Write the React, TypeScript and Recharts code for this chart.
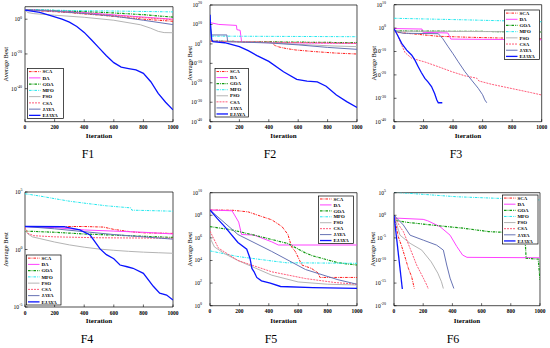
import React from 'react';
import { LineChart, Line, XAxis, YAxis, ReferenceArea } from 'recharts';

const FONT = '"Liberation Serif", "Times New Roman", serif';

type Pt = [number, number]; // [iteration, log10(average best)]

const ITER_TICKS = [0, 200, 400, 600, 800, 1000];
const ALGOS = ['SCA', 'DA', 'GOA', 'MFO', 'PSO', 'CSA', 'JAYA', 'EJAYA'];
const COLORS = ['#ff1a1a', '#ff40ff', '#109a10', '#22e8ee', '#b4b4b4', '#ff5a78', '#6672b4', '#0a14ff'];
const DASHES = ['2.6 1 0.8 1', '', '2.6 1 0.8 1', '2.6 1 0.8 1', '', '2 1', '', ''];
const WIDTHS = [1, 1, 1.2, 1, 1, 1, 1, 1.3];

// ---------------- F1 ----------------
const F1_Y_TICKS = [0, -20, -40];
const F1_SCA: Pt[] = [[0, 5.5], [100, 4.8], [200, 4.3], [300, 3.8], [400, 3.0], [500, 2.4], [600, 1.6], [700, 0.8], [800, 0.0], [900, -0.6], [1000, -1.2]];
const F1_DA: Pt[] = [[0, 5.6], [150, 5.1], [300, 4.5], [450, 3.5], [600, 2.5], [800, 1.2], [1000, 0.0]];
const F1_GOA: Pt[] = [[0, 5.6], [200, 5.0], [400, 4.4], [600, 3.6], [800, 2.6], [1000, 1.2]];
const F1_MFO: Pt[] = [[0, 5.6], [300, 5.0], [600, 4.7], [1000, 4.2]];
const F1_PSO: Pt[] = [[0, 5.3], [20, 3.8], [60, 3.2], [200, 2.3], [400, 1.1], [600, -0.6], [780, -3.2], [850, -5.2], [900, -7.0], [940, -7.7], [1000, -7.8]];
const F1_CSA: Pt[] = [[0, 5.5], [200, 4.5], [400, 3.5], [600, 2.2], [800, 0.9], [1000, -0.3]];
const F1_JAYA: Pt[] = [[0, 5.4], [200, 4.6], [400, 3.3], [600, 1.8], [800, -0.6], [1000, -3.1]];
const F1_EJAYA: Pt[] = [[0, 5.2], [100, 3.9], [190, 1.6], [250, 0.0], [300, -1.7], [350, -4.2], [400, -7.6], [450, -12.0], [500, -16.5], [550, -21.0], [600, -25.0], [650, -27.6], [700, -28.4], [750, -29.2], [800, -31.2], [850, -36.0], [900, -42.7], [950, -47.8], [1000, -52.2]];

// ---------------- F2 ----------------
const F2_Y_TICKS = [20, 10, 0, -10, -20, -30, -40];
const F2_SCA: Pt[] = [[0, 1.3], [420, 1.0], [440, -0.8], [470, -1.6], [520, -2.4], [580, -3.1], [700, -3.9], [850, -4.7], [1000, -5.2]];
const F2_DA: Pt[] = [[0, 11.0], [10, 10.8], [60, 10.0], [180, 9.5], [183, 7.3], [205, 7.0], [215, 1.0], [400, 0.6], [1000, 0.3]];
const F2_GOA: Pt[] = [[0, 1.5], [200, 1.2], [600, 0.9], [1000, 0.6]];
const F2_MFO: Pt[] = [[0, 12.0], [8, 4.0], [1000, 3.7]];
const F2_PSO: Pt[] = [[0, 1.5], [300, 1.1], [500, 0.2], [700, -0.6], [850, -1.1], [1000, -1.4]];
const F2_CSA: Pt[] = [[0, 1.4], [500, 0.8], [1000, 0.3]];
const F2_JAYA: Pt[] = [[0, 15.0], [5, 8.0], [10, 4.6], [115, 4.6], [120, 1.1], [400, 0.5], [600, -0.5], [800, -1.8], [1000, -2.8]];
const F2_EJAYA: Pt[] = [[0, 15.0], [5, 8.0], [12, 2.0], [20, 1.2], [100, 0.6], [200, -1.4], [260, -3.5], [320, -6.0], [400, -9.0], [500, -14.3], [590, -18.2], [660, -19.1], [730, -19.5], [790, -21.8], [860, -26.3], [930, -29.7], [1000, -32.7]];

// ---------------- F3 ----------------
const F3_Y_TICKS = [10, 0, -10, -20, -30, -40];
const F3_SCA: Pt[] = [[0, -0.5], [20, -1.8], [100, -2.3], [300, -3.5], [500, -3.9], [700, -4.2], [1000, -4.6]];
const F3_DA: Pt[] = [[0, -0.2], [190, -0.4], [195, -1.8], [365, -2.1], [385, -4.7], [1000, -5.0]];
const F3_GOA: Pt[] = [[0, -1.2], [1000, -1.6]];
const F3_MFO: Pt[] = [[0, 4.2], [500, 3.5], [1000, 2.7]];
const F3_PSO: Pt[] = [[0, -1.3], [1000, -1.6]];
const F3_CSA: Pt[] = [[0, -0.5], [15, -2.0], [30, -3.8], [50, -7.0], [75, -10.5], [120, -12.9], [210, -14.5], [300, -16.5], [390, -18.6], [480, -20.4], [560, -21.4], [575, -22.6], [660, -24.0], [750, -25.2], [840, -26.4], [930, -27.6], [1000, -28.6]];
const F3_JAYA: Pt[] = [[0, -0.5], [20, -1.5], [60, -2.2], [300, -2.4], [330, -4.5], [367, -8.0], [400, -11.0], [435, -14.4], [480, -18.6], [525, -22.2], [570, -25.7], [600, -28.5], [615, -30.7], [628, -31.9]];
const F3_EJAYA: Pt[] = [[0, -0.3], [20, -2.5], [52, -6.5], [86, -9.4], [119, -11.5], [140, -13.5], [164, -16.5], [185, -19.0], [209, -21.5], [230, -23.0], [254, -25.0], [275, -28.0], [290, -30.7], [300, -31.9], [327, -31.9]];

// ---------------- F4 ----------------
const F4_Y_TICKS = [5, 0, -5];
const F4_SCA: Pt[] = [[0, 2.0], [200, 2.0], [400, 2.0], [530, 1.95], [600, 1.75], [710, 1.55], [800, 1.45], [1000, 1.4]];
const F4_DA: Pt[] = [[0, 2.0], [200, 1.9], [400, 1.7], [600, 1.6], [800, 1.5], [1000, 1.35]];
const F4_GOA: Pt[] = [[0, 1.6], [200, 1.5], [400, 1.35], [600, 1.25], [800, 1.15], [1000, 1.05]];
const F4_MFO: Pt[] = [[0, 4.85], [100, 4.65], [200, 4.42], [300, 4.2], [420, 4.0], [550, 3.8], [640, 3.7], [715, 3.62], [722, 3.42], [850, 3.38], [1000, 3.33]];
const F4_PSO: Pt[] = [[0, 1.7], [20, 1.35], [50, 1.1], [100, 0.95], [200, 0.65], [300, 0.4], [400, 0.2], [500, 0.04], [600, -0.07], [700, -0.16], [800, -0.23], [900, -0.28], [1000, -0.33]];
const F4_CSA: Pt[] = [[0, 1.9], [20, 1.4], [60, 1.2], [200, 1.1], [500, 1.02], [1000, 0.98]];
const F4_JAYA: Pt[] = [[0, 2.0], [200, 1.8], [400, 1.55], [600, 1.3], [800, 1.1], [1000, 0.9]];
const F4_EJAYA: Pt[] = [[0, 2.0], [260, 1.98], [370, 1.7], [440, 1.26], [507, 0.05], [550, -0.45], [600, -0.8], [642, -1.35], [690, -1.5], [730, -1.63], [800, -2.07], [867, -3.2], [910, -3.8], [957, -3.96], [1000, -4.4]];

// ---------------- F5 ----------------
const F5_Y_TICKS = [10, 8, 6, 4, 2, 0];
const F5_SCA: Pt[] = [[0, 8.47], [150, 8.45], [260, 8.3], [350, 7.9], [420, 7.6], [490, 7.0], [530, 6.3], [555, 5.2], [580, 4.8], [625, 3.6], [690, 3.3], [735, 2.9], [748, 2.5], [1000, 2.5]];
const F5_DA: Pt[] = [[0, 8.47], [150, 8.4], [195, 7.4], [215, 6.3], [300, 6.25], [420, 5.65], [465, 5.37], [1000, 5.37]];
const F5_GOA: Pt[] = [[0, 7.0], [150, 6.7], [300, 6.25], [530, 5.5], [645, 4.7], [700, 4.4], [760, 4.2], [870, 3.8], [1000, 3.6]];
const F5_MFO: Pt[] = [[0, 4.85], [190, 4.35], [420, 3.96], [520, 3.8], [1000, 3.75]];
const F5_PSO: Pt[] = [[0, 6.0], [30, 5.2], [100, 4.6], [190, 4.0], [420, 2.7], [600, 2.1], [800, 1.9], [1000, 1.83]];
const F5_CSA: Pt[] = [[0, 6.6], [57, 5.1], [190, 4.0], [420, 3.0], [650, 2.4], [850, 2.05], [1000, 1.9]];
const F5_JAYA: Pt[] = [[0, 8.47], [190, 6.3], [420, 4.8], [650, 3.2], [870, 2.3], [1000, 1.9]];
const F5_EJAYA: Pt[] = [[0, 8.47], [50, 7.7], [100, 7.0], [190, 5.6], [250, 5.0], [272, 4.2], [285, 3.3], [300, 3.0], [318, 2.5], [350, 2.2], [410, 2.0], [480, 1.7], [700, 1.6], [1000, 1.54]];

// ---------------- F6 ----------------
const F6_Y_TICKS = [5, 0, -5, -10, -15, -20];
const F6_SCA: Pt[] = [[0, 0.0], [29, -4.7], [53, -6.9], [75, -9.2], [98, -11.7], [121, -13.6], [139, -16.2]];
const F6_DA: Pt[] = [[0, -0.6], [200, -0.9], [230, -1.2], [315, -2.5], [384, -4.4], [430, -6.9], [470, -8.8], [500, -9.3], [1000, -9.4]];
const F6_GOA: Pt[] = [[0, 0.0], [20, -1.2], [100, -1.6], [258, -2.15], [486, -2.9], [646, -3.6], [806, -3.85], [897, -4.7], [905, -9.5], [988, -9.7], [1000, -14.3]];
const F6_MFO: Pt[] = [[0, 5.1], [430, 4.1], [1000, 3.4]];
const F6_PSO: Pt[] = [[0, 0.0], [41, -4.4], [110, -6.2], [190, -7.7], [255, -10.3], [300, -12.8], [325, -14.7], [338, -16.2]];
const F6_CSA: Pt[] = [[0, 0.0], [40, -2.5], [64, -3.6], [110, -7.3], [155, -11.0], [201, -13.9], [224, -15.4], [235, -16.3]];
const F6_JAYA: Pt[] = [[0, 0.0], [64, -2.15], [110, -4.4], [201, -5.5], [292, -6.6], [338, -7.7], [361, -11.0], [384, -13.9], [410, -16.2]];
const F6_EJAYA: Pt[] = [[0, 0.0], [57, -16.3]];

const F1_SERIES = [F1_SCA, F1_DA, F1_GOA, F1_MFO, F1_PSO, F1_CSA, F1_JAYA, F1_EJAYA];
const F2_SERIES = [F2_SCA, F2_DA, F2_GOA, F2_MFO, F2_PSO, F2_CSA, F2_JAYA, F2_EJAYA];
const F3_SERIES = [F3_SCA, F3_DA, F3_GOA, F3_MFO, F3_PSO, F3_CSA, F3_JAYA, F3_EJAYA];
const F4_SERIES = [F4_SCA, F4_DA, F4_GOA, F4_MFO, F4_PSO, F4_CSA, F4_JAYA, F4_EJAYA];
const F5_SERIES = [F5_SCA, F5_DA, F5_GOA, F5_MFO, F5_PSO, F5_CSA, F5_JAYA, F5_EJAYA];
const F6_SERIES = [F6_SCA, F6_DA, F6_GOA, F6_MFO, F6_PSO, F6_CSA, F6_JAYA, F6_EJAYA];

// layout (page pixels)
const PANELS = [
  { name: 'F1', series: F1_SERIES, yTicks: F1_Y_TICKS, lo: -59, hi: 7.2, plot: [25, 173, 6.7, 121.7], rowTop: 0, gap: 3, yLab: 5.5, title: [88, 158.3], iterBase: 137.7, legend: [27.5, 68.5, 36, 50] },
  { name: 'F2', series: F2_SERIES, yTicks: F2_Y_TICKS, lo: -40, hi: 20, plot: [210, 357, 5, 121.7], rowTop: 0, gap: 8, yLab: 4.7, title: [270, 158.3], iterBase: 137.7, legend: [215, 68.5, 33.5, 48.5] },
  { name: 'F3', series: F3_SERIES, yTicks: F3_Y_TICKS, lo: -40, hi: 10, plot: [394, 541.7, 4.7, 121.7], rowTop: 0, gap: 8, yLab: 5, title: [456, 158.3], iterBase: 137.7, legend: [504.5, 10, 35, 49.5] },
  { name: 'F4', series: F4_SERIES, yTicks: F4_Y_TICKS, lo: -5, hi: 5, plot: [25, 173, 192, 307], rowTop: 170, gap: 2.5, yLab: 5.8, title: [87, 343.3], iterBase: 322.7, legend: [26.5, 255, 34.5, 50] },
  { name: 'F5', series: F5_SERIES, yTicks: F5_Y_TICKS, lo: 0, hi: 10, plot: [210, 357, 192.7, 305.7], rowTop: 170, gap: 8, yLab: 5, title: [271, 342.7], iterBase: 322.7, legend: [318.5, 196, 35, 47.5] },
  { name: 'F6', series: F6_SERIES, yTicks: F6_Y_TICKS, lo: -20, hi: 5, plot: [394, 540, 192.7, 305.7], rowTop: 170, gap: 8, yLab: 3.8, title: [453, 342.7], iterBase: 322.7, legend: [502.5, 195, 35.5, 49] },
];

const toPts = (s: Pt[]) => s.map(([x, e]) => ({ x, y: Math.pow(10, e) }));

const YTick = (props: any) => {
  const { x, y, payload, gap } = props;
  const exp = Math.round(Math.log10(payload.value));
  return (
    <g>
      <line x1={x + gap} x2={x + gap + 2.5} y1={y} y2={y} stroke="#000" strokeWidth={0.6} />
      <text x={x} y={y + 2} textAnchor="end" fontFamily={FONT} fontSize={5.6} fill="#000">
        10<tspan dy={-2.6} fontSize={4}>{exp}</tspan>
      </text>
    </g>
  );
};

const XTick = (props: any) => {
  const { x, y, payload } = props;
  return (
    <g>
      <line x1={x} x2={x} y1={y - 3} y2={y - 5.5} stroke="#000" strokeWidth={0.6} />
      <text x={x} y={y + 4.6} textAnchor="middle" fontFamily={FONT} fontSize={5.5} fontWeight="bold" fill="#000">
        {payload.value}
      </text>
    </g>
  );
};

function Panel({ cfg }: { cfg: any }) {
  const [pl, pr, pt, pb] = cfg.plot;
  const left = pl - 25;
  const width = pr - left + 6;
  const height = pb - cfg.rowTop + 20;
  const lo = Math.pow(10, cfg.lo);
  const hi = Math.pow(10, cfg.hi);
  return (
    <div style={{ position: 'absolute', left, top: cfg.rowTop }}>
      <LineChart width={width} height={height} margin={{ top: pt - cfg.rowTop, right: 6, bottom: 0, left: 0 }}>
        <XAxis
          dataKey="x"
          type="number"
          domain={[0, 1000]}
          ticks={ITER_TICKS}
          interval={0}
          allowDataOverflow
          height={20}
          tickSize={0}
          tickMargin={3}
          tickLine={false}
          axisLine={false}
          tick={(p: any) => <XTick {...p} />}
          label={{ value: 'Iteration', position: 'insideBottom', offset: pb + 20 - cfg.iterBase, fontSize: 7, fontWeight: 'bold', fontFamily: FONT, fill: '#000' }}
        />
        <YAxis
          type="number"
          scale="log"
          domain={[lo, hi]}
          allowDataOverflow
          ticks={cfg.yTicks.map((e: number) => Math.pow(10, e))}
          interval={0}
          width={25}
          tickSize={0}
          tickMargin={cfg.gap}
          tickLine={false}
          axisLine={false}
          tick={(p: any) => <YTick {...p} gap={cfg.gap} />}
          label={{ value: 'Average Best', angle: -90, position: 'insideLeft', offset: cfg.yLab, fontSize: 6.5, fontFamily: FONT, fill: '#000', style: { textAnchor: 'middle' } }}
        />
        <ReferenceArea x1={0} x2={1000} y1={lo} y2={hi} fill="none" fillOpacity={0} stroke="#000" strokeWidth={0.7} ifOverflow="visible" />
        {cfg.series.map((s: Pt[], i: number) => (
          <Line
            key={ALGOS[i]}
            name={ALGOS[i]}
            data={toPts(s)}
            dataKey="y"
            type="linear"
            stroke={COLORS[i]}
            strokeWidth={WIDTHS[i]}
            strokeDasharray={DASHES[i] || undefined}
            dot={false}
            activeDot={false}
            isAnimationActive={false}
          />
        ))}
      </LineChart>
    </div>
  );
}

function LegendBox({ box }: { box: number[] }) {
  const [x, y, w, h] = box;
  const rh = h / ALGOS.length;
  return (
    <g>
      <rect x={x} y={y} width={w} height={h} fill="#fff" stroke="#000" strokeWidth={0.7} />
      {ALGOS.map((a, i) => {
        const cy = y + rh * (i + 0.5);
        return (
          <g key={a}>
            <line x1={x + 1.5} x2={x + 13} y1={cy} y2={cy} stroke={COLORS[i]} strokeWidth={WIDTHS[i]} strokeDasharray={DASHES[i] || undefined} />
            <text x={x + 15} y={cy + 1.7} fontFamily={FONT} fontSize={4.9} fontWeight="bold" fill="#000">{a}</text>
          </g>
        );
      })}
    </g>
  );
}

export default function App() {
  return (
    <div style={{ position: 'absolute', left: 0, top: 0, width: 550, height: 348, background: '#fff', overflow: 'hidden' }}>
      {PANELS.map((p) => (
        <Panel key={p.name} cfg={p} />
      ))}
      <svg width={550} height={348} style={{ position: 'absolute', left: 0, top: 0, pointerEvents: 'none' }}>
        {PANELS.map((p) => (
          <g key={p.name}>
            <LegendBox box={p.legend} />
            <text x={p.title[0]} y={p.title[1]} textAnchor="middle" fontFamily={FONT} fontSize={12} fill="#000">{p.name}</text>
          </g>
        ))}
      </svg>
    </div>
  );
}
